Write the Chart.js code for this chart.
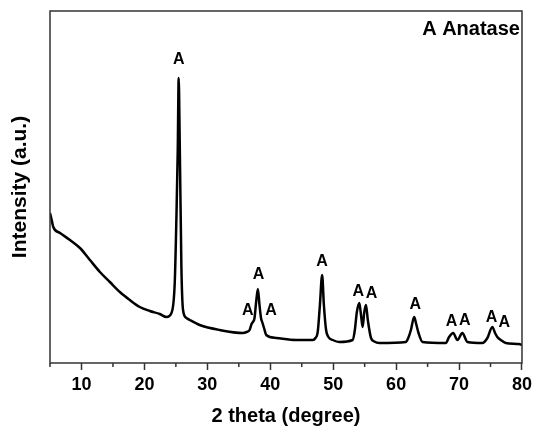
<!DOCTYPE html>
<html lang="en">
<head>
    <meta charset="UTF-8">
    <title>XRD Anatase</title>
    <script src="https://cdn.jsdelivr.net/npm/chart.js"></script>
    <style>
        body {
            margin: 0;
            background-color: #ffffff;
        }
        .chart-box {
            width: 536px;
            height: 432px;
        }
    </style>
</head>
<body>
    <div class="chart-box">
        <canvas id="xrd-chart"></canvas>
    </div>

    <script>
        // 2 theta positions (degree) and intensity (a.u.)
        const thetaDeg = [
            5.00, 5.27, 5.52, 6.59, 8.17, 9.76, 11.34, 12.93, 14.51, 16.10,
            17.68, 19.27, 20.86, 22.44, 23.50, 24.30, 24.82, 25.09, 25.30, 25.45,
            25.61, 25.88, 26.14, 26.68, 27.20, 28.78, 31.96, 35.65, 36.23, 36.71,
            37.03, 37.24, 37.50, 37.74, 38.03, 38.29, 38.53, 38.72, 39.01, 39.36,
            40.95, 44.12, 46.75, 47.18, 47.54, 47.89, 48.24, 48.52, 48.87, 49.24,
            49.92, 50.98, 53.09, 53.44, 53.76, 54.15, 54.42, 54.68, 54.94, 55.21,
            55.50, 56.01, 56.53, 57.33, 61.56, 61.93, 62.35, 62.87, 63.19, 63.56,
            64.19, 67.90, 68.42, 69.06, 69.74, 70.53, 71.33, 73.70, 74.50, 75.29,
            75.72, 76.08, 76.62, 77.41, 79.52, 80.00
        ];
        const intensity = [
            150, 143, 136, 130, 123, 115, 103, 91, 81, 71,
            63, 56, 52, 49, 46, 50, 80, 146, 213, 285,
            223, 96, 53, 45, 43, 38, 33, 30, 31, 33,
            39, 41, 45, 60, 74, 58, 45, 41, 35, 28,
            25, 23, 23, 25, 31, 58, 88, 58, 33, 26,
            23, 21, 23, 33, 51, 60, 48, 36, 51, 58,
            43, 25, 21.5, 20, 21, 25, 33, 46, 39, 30,
            21, 20, 26, 30, 23, 30, 21, 20, 25, 36,
            30, 26, 23, 20, 19, 18
        ];

        // peak markers
        const peakLabelX = [25.45, 36.44, 38.14, 40.12, 48.24, 54.0, 56.1, 63.03, 68.82, 70.91, 75.16, 77.18];
        const peakLabelY = [303, 52, 88, 52, 101, 71.5, 69, 58, 41.5, 42.3, 45.7, 40.5];
        const peakLabelText = 'A';

        const majorTicks = [10, 20, 30, 40, 50, 60, 70, 80];
        const minorTicks = [5, 15, 25, 35, 45, 55, 65, 75];

        const fontFamily = '"Liberation Sans", Arial, sans-serif';
        const axisColor = '#333333';

        const points = thetaDeg.map((t, i) => ({ x: t, y: intensity[i] }));

        // frame, minor ticks, peak letters and phase note
        const decorPlugin = {
            id: 'decor',
            afterDatasetsDraw(chart) {
                const ctx = chart.ctx;
                const area = chart.chartArea;
                const xs = chart.scales.x;
                const ys = chart.scales.y;

                ctx.save();
                ctx.strokeStyle = axisColor;
                ctx.lineWidth = 1.5;
                ctx.strokeRect(area.left, area.top, area.right - area.left, area.bottom - area.top);

                // minor ticks
                ctx.beginPath();
                minorTicks.forEach(v => {
                    const px = xs.getPixelForValue(v);
                    ctx.moveTo(px, area.bottom);
                    ctx.lineTo(px, area.bottom + 4);
                });
                ctx.stroke();

                ctx.fillStyle = '#000';
                ctx.textAlign = 'center';
                ctx.textBaseline = 'middle';
                ctx.font = 'bold 16px ' + fontFamily;
                peakLabelX.forEach((v, i) => {
                    ctx.fillText(peakLabelText, xs.getPixelForValue(v), ys.getPixelForValue(peakLabelY[i]));
                });

                ctx.textAlign = 'right';
                ctx.font = 'bold 20px ' + fontFamily;
                ctx.fillText('A Anatase', area.right - 2, area.top + 18);
                ctx.restore();
            }
        };

        const ctx = document.getElementById('xrd-chart').getContext('2d');
        const xrdChart = new Chart(ctx, {
            type: 'line',
            data: {
                datasets: [{
                    data: points,
                    borderColor: '#000000',
                    borderWidth: 2.5,
                    borderJoinStyle: 'round',
                    pointRadius: 0,
                    fill: false,
                    cubicInterpolationMode: 'monotone'
                }]
            },
            options: {
                responsive: true,
                maintainAspectRatio: false,
                animation: false,
                layout: {
                    padding: { top: 11, right: 13, left: 0, bottom: 0 }
                },
                plugins: {
                    legend: { display: false },
                    tooltip: { enabled: false }
                },
                scales: {
                    x: {
                        type: 'linear',
                        min: 5,
                        max: 80,
                        afterBuildTicks: (scale) => {
                            scale.ticks = majorTicks.map(v => ({ value: v }));
                        },
                        afterFit: (scale) => { scale.height = 69; },
                        grid: {
                            drawOnChartArea: false,
                            tickLength: 7,
                            tickWidth: 1.5,
                            tickColor: axisColor
                        },
                        border: { display: false },
                        ticks: {
                            padding: 4,
                            color: '#000',
                            maxRotation: 0,
                            font: { family: fontFamily, size: 18, weight: 'bold' }
                        },
                        title: {
                            display: true,
                            text: '2 theta (degree)',
                            color: '#000',
                            padding: { top: 0, bottom: 4 },
                            font: { family: fontFamily, size: 20, weight: 'bold' }
                        }
                    },
                    y: {
                        min: 0,
                        max: 352,
                        afterFit: (scale) => { scale.width = 50; },
                        grid: { display: false },
                        border: { display: false },
                        ticks: { display: false },
                        title: {
                            display: true,
                            text: 'Intensity (a.u.)',
                            color: '#000',
                            padding: { top: 8, bottom: 0 },
                            font: { family: fontFamily, size: 21, weight: 'bold' }
                        }
                    }
                }
            },
            plugins: [decorPlugin]
        });
    </script>
</body>
</html>
